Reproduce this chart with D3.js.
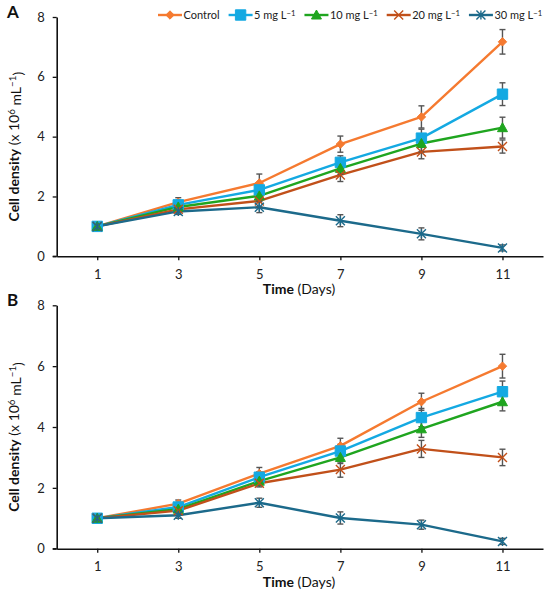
<!DOCTYPE html>
<html>
<head>
<meta charset="utf-8">
<script src="https://cdn.jsdelivr.net/npm/d3@7"></script>
<style>
  body { margin: 0; background: #fff; }
  svg { font-family: Lato, "Open Sans", sans-serif; }
</style>
</head>
<body>
<svg id="chart" width="550" height="597"></svg>
<script>
// Chart data
var days = [1, 3, 5, 7, 9, 11];
var seriesNames = ["Control", "5 mg L", "10 mg L", "20 mg L", "30 mg L"];
var seriesColors = ["#f57a30", "#14a9e2", "#1fa51f", "#c1501a", "#1c6a8b"];
var seriesMarkers = ["diamond", "square", "triangle", "times", "star"];
var yTicks = [0, 2, 4, 6, 8];

// Panel A means
var controlA = [1.0, 1.81, 2.45, 3.75, 4.66, 7.17];
var mg5A     = [1.0, 1.72, 2.22, 3.14, 3.95, 5.42];
var mg10A    = [1.0, 1.65, 2.02, 2.94, 3.77, 4.30];
var mg20A    = [1.0, 1.57, 1.85, 2.72, 3.49, 3.67];
var mg30A    = [1.0, 1.50, 1.64, 1.19, 0.75, 0.28];
// Panel A error bars
var controlErrA = [0.05, 0.15, 0.30, 0.27, 0.37, 0.41];
var mg5ErrA     = [0.05, 0.12, 0.20, 0.22, 0.30, 0.38];
var mg10ErrA    = [0.05, 0.12, 0.18, 0.20, 0.28, 0.35];
var mg20ErrA    = [0.05, 0.12, 0.20, 0.22, 0.23, 0.22];
var mg30ErrA    = [0.05, 0.10, 0.18, 0.20, 0.20, 0.10];

// Panel B means
var controlB = [1.0, 1.48, 2.47, 3.38, 4.83, 6.00];
var mg5B     = [1.0, 1.37, 2.35, 3.21, 4.31, 5.16];
var mg10B    = [1.0, 1.30, 2.22, 3.00, 3.94, 4.83];
var mg20B    = [1.0, 1.25, 2.15, 2.60, 3.28, 3.00];
var mg30B    = [1.0, 1.10, 1.51, 1.01, 0.79, 0.24];
// Panel B error bars
var controlErrB = [0.05, 0.12, 0.20, 0.25, 0.28, 0.39];
var mg5ErrB     = [0.05, 0.10, 0.18, 0.22, 0.30, 0.35];
var mg10ErrB    = [0.05, 0.10, 0.15, 0.20, 0.28, 0.30];
var mg20ErrB    = [0.05, 0.10, 0.12, 0.25, 0.28, 0.27];
var mg30ErrB    = [0.05, 0.10, 0.15, 0.20, 0.15, 0.10];

var svg = d3.select("#chart");

function markerPath(type, s){
    // custom marker shapes, s = half size
    if (type === "diamond") return `M0,${-s}L${s},0L0,${s}L${-s},0Z`;
    if (type === "square") return `M${-s},${-s}H${s}V${s}H${-s}Z`;
    if (type === "triangle") return `M0,${-s}L${s},${s * 0.8}L${-s},${s * 0.8}Z`;
    if (type === "times") return `M${-s},${-s}L${s},${s}M${s},${-s}L${-s},${s}`;
    // star: x plus vertical line
    return `M${-s},${-s}L${s},${s}M${s},${-s}L${-s},${s}M0,${-s}V${s}`;
}

var markerSize = {diamond: 4.2, square: 5.2, triangle: 5, times: 4.5, star: 4.5};

function addSup(text, base, sup){
    text.append("tspan").text(base);
    text.append("tspan").attr("dy", "-0.45em").attr("font-size", "0.7em").text(sup);
    text.append("tspan").attr("dy", "0.45em").text("\u200a");
}

function drawMarker(g, type, color, x, y){
    let open = (type === "times" || type === "star");
    g.append("path")
      .attr("transform", `translate(${x},${y})`)
      .attr("d", markerPath(type, markerSize[type]))
      .attr("fill", open ? "none" : color)
      .attr("stroke", color)
      .attr("stroke-width", open ? 1.4 : 1);
}

function panel(label, top, bottom, means, errs){
    let x = d3.scaleLinear().domain([0, 12]).range([56.7, 543]);
    let y = d3.scaleLinear().domain([0, 8]).range([bottom, top]);
    let g = svg.append("g");

    // axes
    let yAxis = d3.axisLeft(y).tickValues(yTicks).tickSize(4).tickSizeOuter(0).tickPadding(8);
    let gy = g.append("g").attr("transform", `translate(${x(0)},0)`).call(yAxis);
    let xAxis = d3.axisBottom(x).tickValues(days).tickSize(4).tickSizeOuter(0).tickPadding(9);
    let gx = g.append("g").attr("transform", `translate(0,${bottom})`).call(xAxis);

    [gx, gy].forEach(function(a){
        a.select(".domain").attr("stroke", "#111").attr("stroke-width", 1.6);
        a.selectAll(".tick line").attr("stroke", "#111").attr("stroke-width", 1.3);
        a.selectAll(".tick text").attr("font-size", 13).attr("fill", "#222")
          .attr("font-family", "Lato, sans-serif");
    });
    // extend y-axis line down to meet x-axis and 0 tick
    g.append("line")
      .attr("x1", x(0) - 4).attr("x2", x(0))
      .attr("y1", bottom).attr("y2", bottom)
      .attr("stroke", "#111").attr("stroke-width", 1.3);

    // panel letter
    g.append("text").attr("x", 7).attr("y", top + 1)
      .attr("font-size", 17).attr("font-weight", "bold").attr("fill", "#111")
      .attr("font-family", "Lato, sans-serif")
      .text(label);

    // x title
    let xt = g.append("text").attr("x", 299).attr("y", bottom + 38)
      .attr("text-anchor", "middle").attr("font-size", 14).attr("fill", "#111");
    xt.append("tspan").attr("font-weight", "bold").text("Time");
    xt.append("tspan").text(" (Days)");

    // y title
    let cy = (top + bottom) / 2 + 10;
    let yt = g.append("text")
      .attr("transform", `translate(19,${cy}) rotate(-90)`)
      .attr("text-anchor", "middle").attr("font-size", 14).attr("fill", "#111");
    yt.append("tspan").attr("font-weight", "bold").text("Cell density");
    yt.append("tspan").text(" (x 10");
    yt.append("tspan").attr("dy", "-0.45em").attr("font-size", "0.7em").text("6");
    yt.append("tspan").attr("dy", "0.45em").text(" mL");
    yt.append("tspan").attr("dy", "-0.45em").attr("font-size", "0.7em").text("\u22121");
    yt.append("tspan").attr("dy", "0.45em").text(")");

    let line = d3.line().x(function(d, i){ return x(days[i]); }).y(function(d){ return y(d); });

    means.forEach(function(vals, s){
        g.append("path").datum(vals)
          .attr("d", line)
          .attr("fill", "none")
          .attr("stroke", seriesColors[s])
          .attr("stroke-width", 2.4)
          .attr("stroke-linejoin", "round");
    });

    // error bars
    means.forEach(function(vals, s){
        vals.forEach(function(v, i){
            let e = errs[s][i];
            let cx = x(days[i]);
            let eg = g.append("g").attr("stroke", "#555").attr("stroke-width", 1.4);
            eg.append("line").attr("x1", cx).attr("x2", cx).attr("y1", y(v - e)).attr("y2", y(v + e));
            eg.append("line").attr("x1", cx - 3).attr("x2", cx + 3).attr("y1", y(v - e)).attr("y2", y(v - e));
            eg.append("line").attr("x1", cx - 3).attr("x2", cx + 3).attr("y1", y(v + e)).attr("y2", y(v + e));
        });
    });

    // markers
    means.forEach(function(vals, s){
        vals.forEach(function(v, i){
            drawMarker(g, seriesMarkers[s], seriesColors[s], x(days[i]), y(v));
        });
    });
}

panel("A", 17, 256.3,
      [controlA, mg5A, mg10A, mg20A, mg30A],
      [controlErrA, mg5ErrA, mg10ErrA, mg20ErrA, mg30ErrA]);
panel("B", 305.3, 548.7,
      [controlB, mg5B, mg10B, mg20B, mg30B],
      [controlErrB, mg5ErrB, mg10ErrB, mg20ErrB, mg30ErrB]);

// legend along the top of panel A
var legend = svg.append("g").attr("transform", "translate(0,15)");
var lx = 158;
seriesNames.forEach(function(name, s){
    let item = legend.append("g").attr("transform", `translate(${lx},0)`);
    item.append("line").attr("x1", 0).attr("x2", 24).attr("y1", 0).attr("y2", 0)
      .attr("stroke", seriesColors[s]).attr("stroke-width", 2.4);
    drawMarker(item, seriesMarkers[s], seriesColors[s], 12, 0);
    let t = item.append("text").attr("x", 25.5).attr("y", 4)
      .attr("font-size", 11).attr("fill", "#222");
    if (s === 0) {
        t.text(name);
    } else {
        t.append("tspan").text(name);
        t.append("tspan").attr("dy", "-0.45em").attr("font-size", "0.7em").text("\u22121");
    }
    lx += 25.5 + t.node().getComputedTextLength() + 9;
});
</script>
</body>
</html>
